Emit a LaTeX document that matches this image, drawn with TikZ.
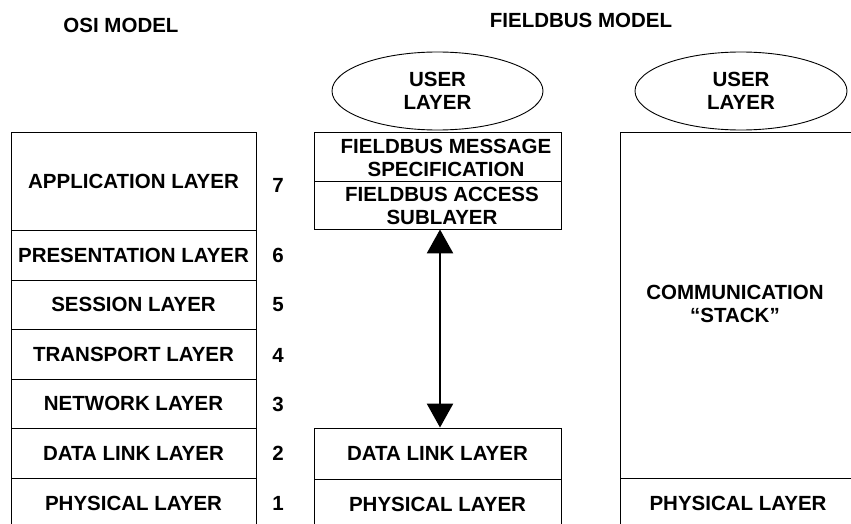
\documentclass[tikz,border=0pt]{standalone}
\usepackage{fontspec}
\setmainfont{Liberation Sans}
\usetikzlibrary{arrows.meta,shapes.geometric}
\begin{document}
\begin{tikzpicture}[x=1pt,y=-1pt,
  txt/.style={inner sep=0pt, align=center, font=\fontsize{20.5}{23}\selectfont\bfseries},
  layerbox/.style={txt, draw, line width=0.9pt},
  osi/.style={layerbox, minimum width=245pt},
  fbus/.style={layerbox, minimum width=247pt},
  userlayer/.style={txt, draw, line width=0.9pt, ellipse, minimum width=211pt, minimum height=78pt},
  num/.style={txt},
  link/.style={line width=2.6pt, {Triangle[length=24pt,width=26pt]}-{Triangle[length=24pt,width=26pt]}}
]
\useasboundingbox (0,0) rectangle (851,524);
\fill[white] (0,0) rectangle (851,524);
\clip (0,0) rectangle (851,524);

% column headings
\node[txt] (osititle) at (121,25) {OSI MODEL};
\node[txt] (fbtitle) at (581,20) {FIELDBUS MODEL};

% OSI seven-layer stack
\node[osi, minimum height=98pt] (app)  at (133.5,181)   {APPLICATION LAYER};
\node[osi, minimum height=50pt] (pres) at (133.5,255)   {PRESENTATION LAYER};
\node[osi, minimum height=49pt] (sess) at (133.5,304.5) {SESSION LAYER};
\node[osi, minimum height=50pt] (trans) at (133.5,354)  {TRANSPORT LAYER};
\node[osi, minimum height=49pt] (net)  at (133.5,403.5) {NETWORK LAYER};
\node[osi, minimum height=50pt] (dl)   at (133.5,453)   {DATA LINK LAYER};
\node[osi, minimum height=50pt] (phy)  at (133.5,503)   {PHYSICAL LAYER};

% layer numbers
\node[num] (n7) at (278,185) {7};
\node[num] (n6) at (278,255) {6};
\node[num] (n5) at (278,305) {5};
\node[num] (n4) at (278,355) {4};
\node[num] (n3) at (278,404) {3};
\node[num] (n2) at (278,453) {2};
\node[num] (n1) at (278,503) {1};

% fieldbus stack
\node[userlayer] (user1) at (437.5,91) {USER\\LAYER};
\node[fbus, minimum height=49pt] (fms) at (437.5,156.5) {};
\node[txt] (fmstext) at (446,158) {FIELDBUS MESSAGE\\SPECIFICATION};
\node[fbus, minimum height=48pt] (fas) at (437.5,205) {};
\node[txt] (fastext) at (442,206) {FIELDBUS ACCESS\\SUBLAYER};
\node[fbus, minimum height=51pt] (fdl) at (437.5,453.5) {DATA LINK LAYER};
\node[fbus, minimum height=50pt] (fphy) at (437.5,504)  {PHYSICAL LAYER};

% link between the upper and lower fieldbus layers
\coordinate (ax) at (440,0);
\draw[link] (fas.south -| ax) -- (fdl.north -| ax);

% simplified fieldbus view
\node[userlayer, minimum width=212pt] (user2) at (741,91) {USER\\LAYER};
\node[layerbox, minimum width=236pt, minimum height=346pt] (stack) at (738,305) {};
\node[layerbox, minimum width=236pt, minimum height=50pt] (sphy) at (738,503) {PHYSICAL LAYER};
\node[txt] (stacklabel) at (735,304) {COMMUNICATION\\“STACK”};
\end{tikzpicture}
\end{document}
